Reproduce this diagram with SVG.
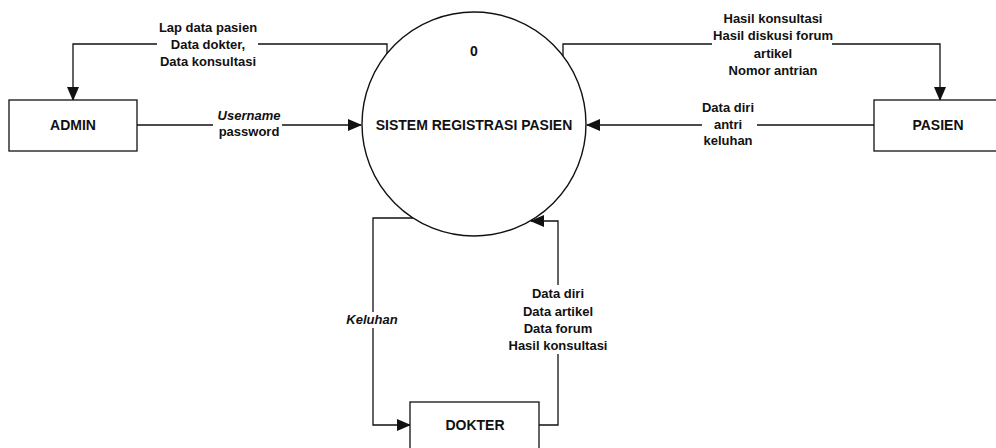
<svg xmlns="http://www.w3.org/2000/svg" width="996" height="448" viewBox="0 0 996 448">
<style>
.box{fill:#fff;stroke:#111;stroke-width:1.3}
.proc{fill:#fff;stroke:#111;stroke-width:1.4}
.name{font-family:"Liberation Sans",Arial,sans-serif;font-weight:bold;font-size:14px;fill:#111;text-anchor:middle}
.lbl{font-family:"Liberation Sans",Arial,sans-serif;font-weight:bold;font-size:13px;fill:#111;text-anchor:middle}
.it{font-style:italic}
.flow{fill:none;stroke:#111;stroke-width:1.3}
.bg{fill:#fff}
</style>
<defs>
<marker id="arr" markerUnits="userSpaceOnUse" markerWidth="14" markerHeight="12" refX="13" refY="6" orient="auto">
<path d="M0,0 L14,6 L0,12 z" fill="#111"/>
</marker>
</defs>
<rect width="996" height="448" fill="#fff"/>
<g id="connectors">
<path class="flow" d="M137,125 H361" marker-end="url(#arr)"/>
<path class="flow" d="M387,54 V44 H73 V100" marker-end="url(#arr)"/>
<path class="flow" d="M563,56 V44 H940 V100" marker-end="url(#arr)"/>
<path class="flow" d="M874,125 H587" marker-end="url(#arr)"/>
<path class="flow" d="M413,218 H373 V425 H410" marker-end="url(#arr)"/>
<path class="flow" d="M539,425 H558 V221 H531" marker-end="url(#arr)"/>
<rect class="bg" x="213" y="109" width="69" height="30"/>
<rect class="bg" x="157" y="18" width="101" height="52"/>
<rect class="bg" x="712" y="10" width="120" height="70"/>
<rect class="bg" x="702" y="100" width="55" height="48"/>
<rect class="bg" x="346" y="312" width="54" height="16"/>
<rect class="bg" x="507" y="285" width="103" height="69"/>
<text class="lbl it" x="249" y="120">Username</text>
<text class="lbl" x="249" y="136">password</text>
<text class="lbl" x="208" y="32">Lap data pasien</text>
<text class="lbl" x="208" y="49">Data dokter,</text>
<text class="lbl" x="208" y="66">Data konsultasi</text>
<text class="lbl" x="773" y="23">Hasil konsultasi</text>
<text class="lbl" x="773" y="40">Hasil diskusi forum</text>
<text class="lbl" x="773" y="58">artikel</text>
<text class="lbl" x="773" y="75">Nomor antrian</text>
<text class="lbl" x="728" y="112">Data diri</text>
<text class="lbl" x="728" y="129">antri</text>
<text class="lbl" x="728" y="145">keluhan</text>
<text class="lbl it" x="372" y="324">Keluhan</text>
<text class="lbl" x="558" y="298">Data diri</text>
<text class="lbl" x="558" y="316">Data artikel</text>
<text class="lbl" x="558" y="333">Data forum</text>
<text class="lbl" x="558" y="350">Hasil konsultasi</text>
</g>
<g id="process">
<circle class="proc" cx="474" cy="124" r="112"/>
<text class="name" x="474" y="56">0</text>
<text class="name" x="474" y="130">SISTEM REGISTRASI PASIEN</text>
</g>
<g id="admin">
<rect class="box" x="9" y="100" width="128" height="51"/>
<text class="name" x="73" y="130">ADMIN</text>
</g>
<g id="pasien">
<rect class="box" x="874" y="100" width="130" height="51"/>
<text class="name" x="938" y="130">PASIEN</text>
</g>
<g id="dokter">
<rect class="box" x="410" y="402" width="129" height="52"/>
<text class="name" x="475" y="430">DOKTER</text>
</g>
</svg>
